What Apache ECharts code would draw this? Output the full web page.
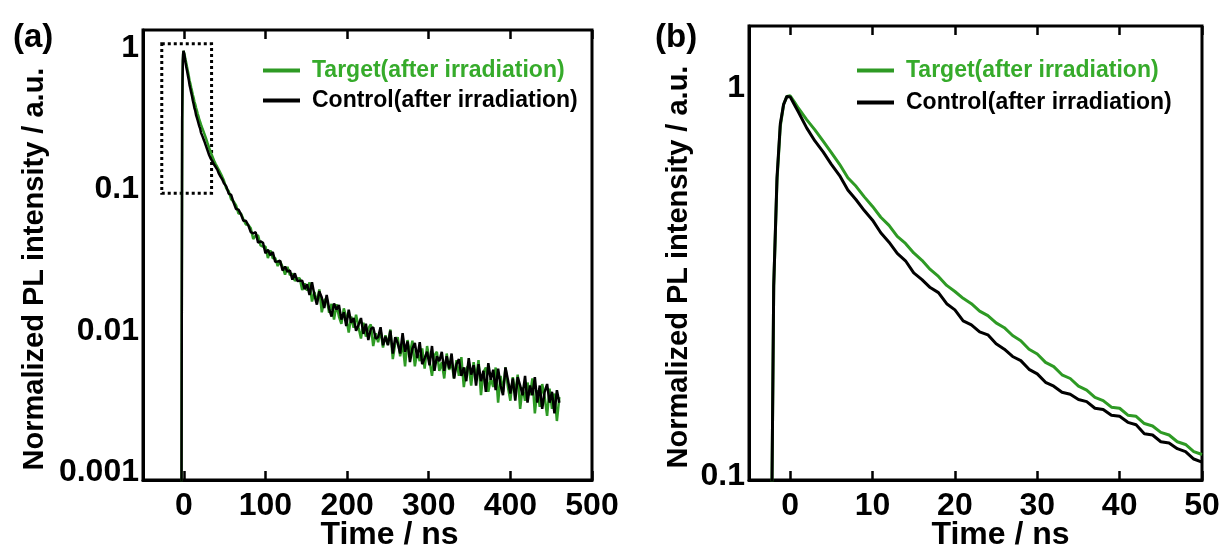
<!DOCTYPE html>
<html><head><meta charset="utf-8">
<script src="https://cdn.jsdelivr.net/npm/echarts@6/dist/echarts.min.js"></script>
<style>html,body{margin:0;padding:0;background:#fff}#c{width:1223px;height:546px}</style>
</head><body><div id="c"></div>
<script>
const seriesNames = ['Target(after irradiation)', 'Control(after irradiation)'];
const xTickLabelsA = ['0','100','200','300','400','500'];
const xTickLabelsB = ['0','10','20','30','40','50'];
const yTickLabelsA = ['0.001','0.01','0.1','1'];
const yTickLabelsB = ['0.1','1'];

// early part (rise, peak and first 50 ns) - used by both panels
const timeEarly = [-3,-2.5,-2.2,-2,-1.6,-1.2,-0.8,-0.4,0,0.5,
  1,2,3,4,5,6,7,8,9,10,
  11,12,13,14,15,16,17,18,19,20,
  21,22,23,24,25,26,27,28,29,30,
  31,32,33,34,35,36,37,38,39,40,
  41,42,43,44,45,46,47,48,49,50];
const targetEarly = [0.0002,0.012,0.1,0.31,0.58,0.80,0.91,0.955,0.958,0.925,
  0.89,0.832,0.783,0.732,0.684,0.638,0.589,0.560,0.526,0.497,
  0.466,0.444,0.416,0.399,0.377,0.361,0.342,0.328,0.311,0.300,
  0.288,0.279,0.267,0.260,0.249,0.242,0.231,0.224,0.213,0.207,
  0.197,0.192,0.183,0.179,0.171,0.167,0.160,0.157,0.151,0.150,
  0.144,0.143,0.137,0.135,0.130,0.128,0.123,0.121,0.116,0.114];
const controlEarly = [0.0002,0.012,0.1,0.31,0.59,0.81,0.91,0.955,0.952,0.91,
  0.87,0.792,0.733,0.687,0.638,0.597,0.548,0.517,0.485,0.458,
  0.425,0.402,0.376,0.360,0.335,0.322,0.307,0.298,0.279,0.269,
  0.252,0.246,0.236,0.232,0.220,0.213,0.204,0.199,0.189,0.184,
  0.175,0.171,0.165,0.163,0.158,0.156,0.150,0.149,0.144,0.143,
  0.138,0.136,0.129,0.128,0.123,0.122,0.118,0.116,0.111,0.109];

// long noisy tail (panel a only)
const timeTail = [52,55,58,61,64,67,70,73,76,79,
  82,85,88,91,94,97,100,103,106,109,112,115,118,121,124,127,130,133,136,139,142,145,148,
  151,154,157,160,163,166,169,172,175,178,181,184,187,190,193,196,199,202,205,208,211,214,217,220,223,226,229,232,235,238,241,244,247,250,
  253,256,259,262,265,268,271,274,277,280,283,286,289,292,295,298,301,304,307,310,313,316,319,322,325,328,331,334,337,340,343,346,349,
  352,355,358,361,364,367,370,373,376,379,382,385,388,391,394,397,400,403,406,409,412,415,418,421,424,427,430,433,436,439,442,445,448,451,454,457,460];
const targetTail = [0.1017,0.0972,0.0851,0.0820,0.0771,0.0674,0.0675,0.0615,0.0565,0.0561,
  0.0531,0.0446,0.0472,0.0472,0.0402,0.0394,0.0395,0.0327,0.0370,0.0325,0.0327,0.0287,0.0310,0.0283,0.0249,0.0283,0.0247,0.0254,0.0225,0.0234,0.0235,0.0194,0.0216,
  0.0192,0.0220,0.0161,0.0188,0.0159,0.0196,0.0135,0.0164,0.0170,0.0134,0.0155,0.0120,0.0154,0.0126,0.0112,0.0144,0.0124,0.0097,0.0126,0.0105,0.0130,0.0106,0.0088,0.0114,0.0091,0.0104,0.0111,0.0078,0.0096,0.0083,0.0101,0.0076,0.0093,0.0080,
  0.0102,0.0063,0.0082,0.0090,0.0066,0.0082,0.0056,0.0086,0.0069,0.0085,0.0056,0.0072,0.0061,0.0075,0.0054,0.0078,0.0061,0.0048,0.0067,0.0071,0.0052,0.0060,0.0046,0.0069,0.0053,0.0060,0.0046,0.0062,0.0048,0.0065,0.0040,0.0054,0.0057,
  0.0041,0.0060,0.0046,0.0062,0.0035,0.0051,0.0055,0.0037,0.0046,0.0040,0.0055,0.0031,0.0048,0.0037,0.0055,0.0040,0.0032,0.0047,0.0036,0.0049,0.0028,0.0040,0.0032,0.0043,0.0035,0.0046,0.0026,0.0038,0.0029,0.0042,0.0034,0.0025,0.0039,0.0028,0.0036,0.0023,0.0034];
const controlTail = [0.105,0.0934,0.0915,0.0806,0.0726,0.0719,0.0665,0.0600,0.0600,0.0557,
  0.0498,0.0489,0.0498,0.0419,0.0429,0.0419,0.0353,0.0374,0.0342,0.0360,0.0307,0.0309,0.0313,0.0267,0.0284,0.0262,0.0267,0.0230,0.0255,0.0225,0.0226,0.0226,0.0197,
  0.0213,0.0179,0.0220,0.0179,0.0153,0.0190,0.0172,0.0145,0.0179,0.0143,0.0126,0.0156,0.0141,0.0152,0.0120,0.0135,0.0108,0.0141,0.0114,0.0123,0.0100,0.0110,0.0123,0.0095,0.0112,0.0086,0.0103,0.0106,0.0088,0.0090,0.0106,0.0079,0.0091,0.0079,
  0.0100,0.0069,0.0090,0.0082,0.0069,0.0096,0.0071,0.0084,0.0060,0.0075,0.0082,0.0064,0.0083,0.0058,0.0064,0.0071,0.0057,0.0078,0.0052,0.0066,0.0061,0.0071,0.0052,0.0066,0.0054,0.0069,0.0046,0.0058,0.0063,0.0048,0.0055,0.0044,0.0064,
  0.0049,0.0057,0.0041,0.0058,0.0044,0.0052,0.0037,0.0059,0.0045,0.0053,0.0038,0.0054,0.0041,0.0035,0.0055,0.0045,0.0036,0.0046,0.0032,0.0047,0.0041,0.0035,0.0048,0.0031,0.0041,0.0035,0.0047,0.0031,0.0041,0.0028,0.0037,0.0042,0.0031,0.0037,0.0026,0.0038,0.0031];

// dotted zoom box in panel (a): [time, intensity] corners
const zoomBox = [[-27, 1.07], [34, 0.094]];

const GREEN = '#2e9a24', GREEN_TXT = '#36ab2b';
const FONT = 'Liberation Sans, Arial, sans-serif';

function zip(t, v) { return t.map((x, i) => [x, v[i]]); }
const timeA = timeEarly.concat(timeTail);
const targetA = targetEarly.concat(targetTail);
const controlA = controlEarly.concat(controlTail);

function xLabel(list) { return v => list.indexOf(String(v)) >= 0 ? String(v) : ''; }
function yLabel(list) {
  return v => {
    const e = Math.log10(v), r = Math.round(e);
    if (Math.abs(e - r) > 1e-6) return '';
    const s = list.find(t => Math.round(Math.log10(parseFloat(t))) === r);
    return s || '';
  };
}

const axisLineStyle = { onZero: false, lineStyle: { color: '#000', width: 3 } };
function xAxisMain(grid, min, max, labels, nameShift) {
  return {
    type: 'value', gridIndex: grid, min: min, max: max, splitNumber: 5,
    axisLine: axisLineStyle,
    axisTick: { inside: true, length: 9, lineStyle: { color: '#000', width: 2.5 } },
    axisLabel: { color: '#000', fontSize: 32, fontWeight: 'bold', fontFamily: FONT, margin: 10,
      showMinLabel: false, formatter: xLabel(labels) },
    splitLine: { show: false },
    name: 'Time / ns', nameLocation: 'middle', nameGap: 39, nameMoveOverlap: false,
    nameTextStyle: { color: '#000', fontSize: 32, fontWeight: 'bold', fontFamily: FONT, padding: [0, 0, 0, nameShift] }
  };
}
function xAxisTop(grid, min, max) {
  return {
    type: 'value', gridIndex: grid, position: 'top', min: min, max: max, splitNumber: 5,
    axisLine: { show: false, onZero: false },
    axisTick: { inside: true, length: 9, lineStyle: { color: '#000', width: 2.5 } },
    axisLabel: { show: false }, splitLine: { show: false }
  };
}
function yAxisMain(grid, min, max, labels, gap, shift) {
  return {
    type: 'log', logBase: 10, gridIndex: grid, min: min, max: max,
    axisLine: axisLineStyle, axisTick: { show: false },
    axisLabel: { color: '#000', fontSize: 32, fontWeight: 'bold', fontFamily: FONT, margin: 4,
      showMinLabel: false, showMaxLabel: false, formatter: yLabel(labels) },
    splitLine: { show: false }, minorTick: { show: false },
    name: 'Normalized PL intensity / a.u.', nameLocation: 'middle', nameGap: gap, nameMoveOverlap: false,
    nameTextStyle: { color: '#000', fontSize: 29, fontWeight: 'bold', fontFamily: FONT, padding: [0, shift, 0, 0] }
  };
}
function lineSeries(name, color, x, y, data, width, extra) {
  return Object.assign({
    name: name, type: 'line', xAxisIndex: x, yAxisIndex: y, data: data,
    showSymbol: false, symbol: 'none', clip: true,
    lineStyle: { color: color, width: width }, itemStyle: { color: color }
  }, extra || {});
}
function legend(left, top, gap) {
  return {
    orient: 'vertical', left: left, top: top, itemGap: gap, itemWidth: 37, itemHeight: 4,
    icon: 'rect', selectedMode: false,
    textStyle: { fontSize: 23, fontWeight: 'bold', fontFamily: FONT, padding: [0, 0, 0, 7] },
    data: [
      { name: seriesNames[0], textStyle: { color: GREEN_TXT } },
      { name: seriesNames[1], textStyle: { color: '#000' } }
    ]
  };
}

const chart = echarts.init(document.getElementById('c'), null, { renderer: 'canvas' });
chart.setOption({
  animation: false,
  backgroundColor: '#fff',
  title: [
    { text: '(a)', left: 8, top: 16, textStyle: { fontSize: 33, fontWeight: 'bold', fontFamily: FONT, color: '#000' } },
    { text: '(b)', left: 650, top: 16, textStyle: { fontSize: 33, fontWeight: 'bold', fontFamily: FONT, color: '#000' } }
  ],
  legend: [legend(258, 54, 7), legend(852, 54, 9)],
  grid: [
    { left: 143, right: 631, top: 30, bottom: 66, show: true, borderColor: '#000', borderWidth: 3, outerBoundsMode: 'none', containLabel: false },
    { left: 749, right: 21, top: 26, bottom: 66, show: true, borderColor: '#000', borderWidth: 3, outerBoundsMode: 'none', containLabel: false }
  ],
  xAxis: [
    xAxisMain(0, -50, 500, xTickLabelsA, 44),
    xAxisTop(0, -50, 500),
    xAxisMain(1, -5, 50, xTickLabelsB, 50),
    xAxisTop(1, -5, 50)
  ],
  yAxis: [
    yAxisMain(0, 0.00088, 1.34, yTickLabelsA, 94, 28),
    yAxisMain(1, 0.098, 1.45, yTickLabelsB, 56, 28)
  ],
  series: [
    lineSeries(seriesNames[0], GREEN, 0, 0, zip(timeA, targetA), 2.5, {
      markArea: {
        silent: true,
        itemStyle: { color: 'rgba(0,0,0,0)', borderColor: '#000', borderWidth: 3, borderType: [3, 3] },
        data: [[{ coord: zoomBox[0] }, { coord: zoomBox[1] }]]
      }
    }),
    lineSeries(seriesNames[1], '#000', 0, 0, zip(timeA, controlA), 2.5),
    lineSeries(seriesNames[0], GREEN, 2, 1, zip(timeEarly, targetEarly), 3),
    lineSeries(seriesNames[1], '#000', 2, 1, zip(timeEarly, controlEarly), 3)
  ]
});
</script>
</body></html>
